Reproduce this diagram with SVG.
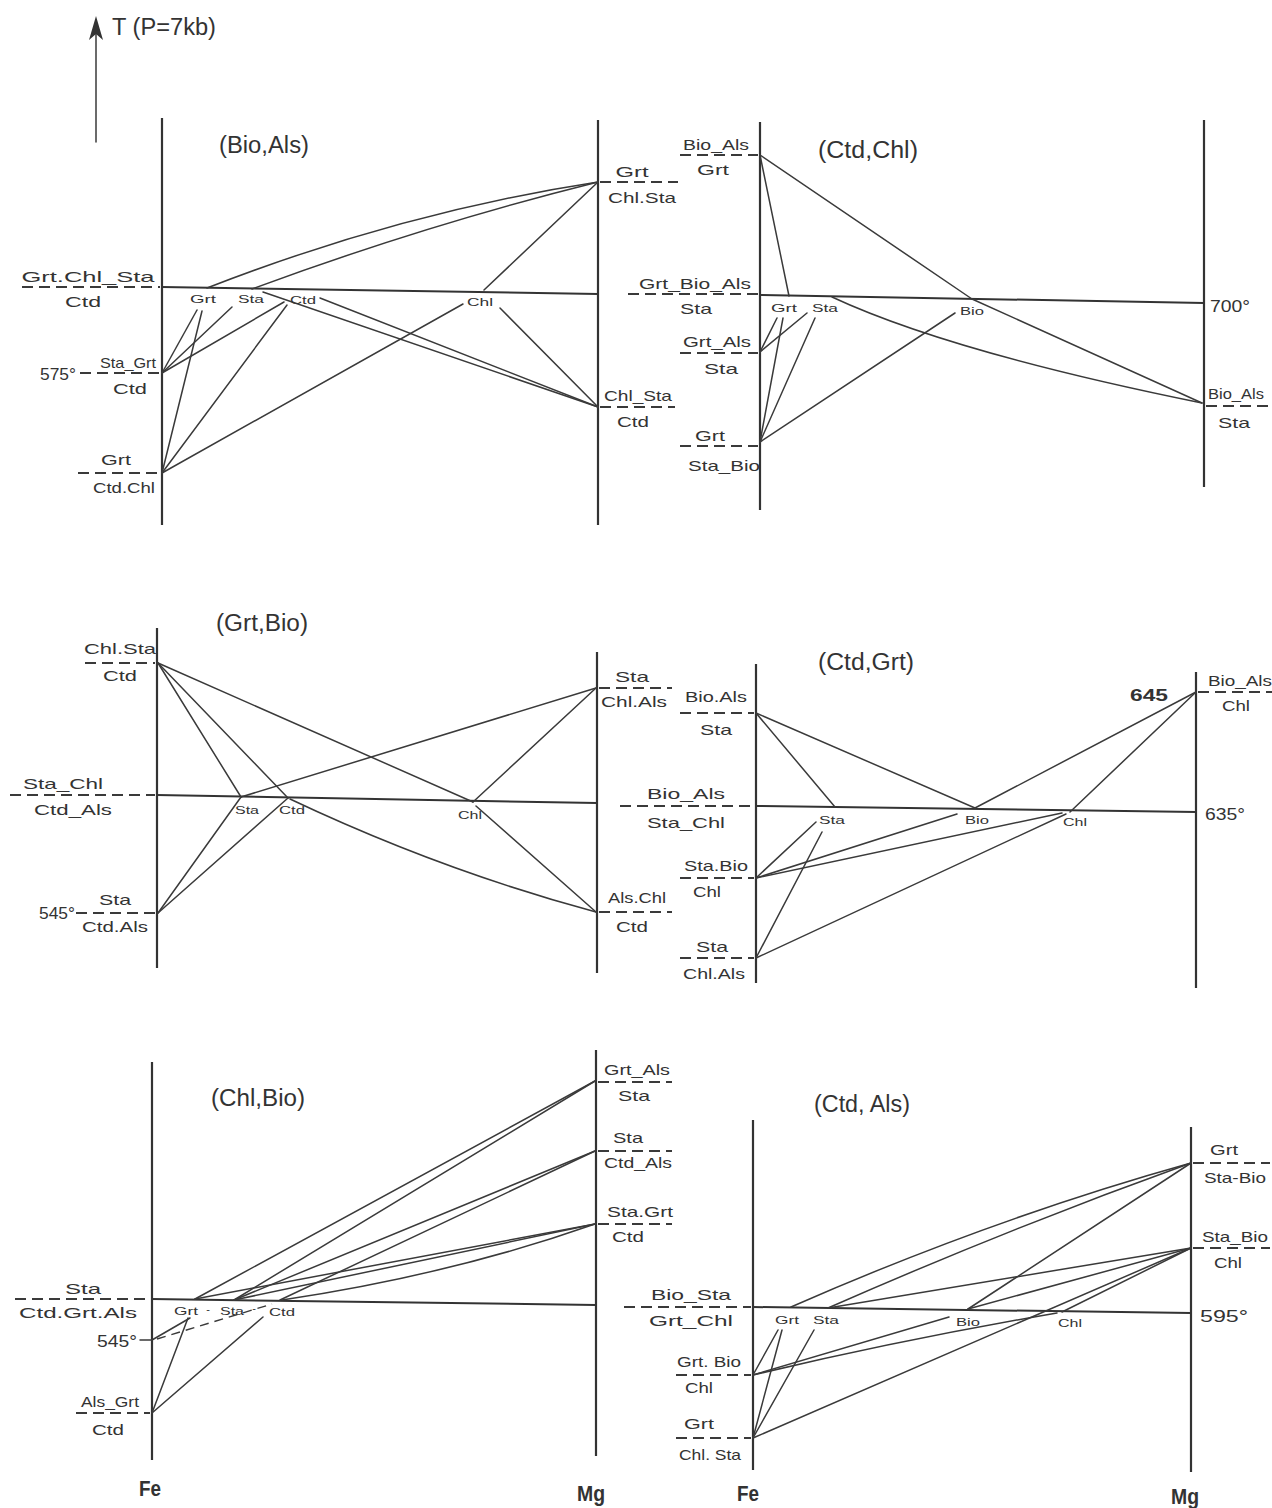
<svg xmlns="http://www.w3.org/2000/svg" width="1272" height="1508" viewBox="0 0 1272 1508">
<defs>
<style>
.ax{stroke:#333;stroke-width:2.2;fill:none}
.hl{stroke:#333;stroke-width:2;fill:none}
.ln{stroke:#3a3a3a;stroke-width:1.5;fill:none;stroke-linecap:round}
.ds{stroke:#3a3a3a;stroke-width:1.8;fill:none;stroke-dasharray:11 6}
.dl{stroke:#3a3a3a;stroke-width:1.4;fill:none;stroke-dasharray:9 6}
.h{font-family:"Liberation Sans",Arial,sans-serif;font-size:15px;fill:#333;text-anchor:middle}
.n{font-family:"Liberation Sans",Arial,sans-serif;font-size:11px;fill:#333;text-anchor:middle}
.t{font-family:"Liberation Sans",Arial,sans-serif;font-size:23px;fill:#333;text-anchor:middle}
.v{font-family:"Liberation Sans",Arial,sans-serif;font-size:17px;fill:#333}
.fm{font-family:"Liberation Sans",Arial,sans-serif;font-size:22px;font-weight:bold;fill:#333;text-anchor:middle}
</style>
<marker id="ah" markerWidth="12" markerHeight="24" refX="6" refY="2" orient="auto-start-reverse" markerUnits="userSpaceOnUse" viewBox="0 0 12 24">
<path d="M6,0 L12,24 L6,18 L0,24 Z" fill="#333"/>
</marker>
</defs>
<rect width="1272" height="1508" fill="#fff"/>

<g id="header">
<line x1="96" y1="142" x2="96" y2="20" class="ln" stroke-width="1.8"/>
<path d="M96,16 L103,40 L96,34 L89,40 Z" fill="#333"/>
<text x="164" y="35" class="t" textLength="104" lengthAdjust="spacingAndGlyphs">T (P=7kb)</text>
</g>

<!-- axes and isotherm lines -->
<g id="frames">
<line x1="162" y1="118" x2="162" y2="525" class="ax"/>
<line x1="598" y1="120" x2="598" y2="525" class="ax"/>
<line x1="162" y1="287" x2="598" y2="294" class="hl"/>
<line x1="760" y1="122" x2="760" y2="510" class="ax"/>
<line x1="1204" y1="120" x2="1204" y2="487" class="ax"/>
<line x1="760" y1="295" x2="1204" y2="303" class="hl"/>
<line x1="157" y1="628" x2="157" y2="968" class="ax"/>
<line x1="597" y1="652" x2="597" y2="973" class="ax"/>
<line x1="157" y1="795" x2="597" y2="803" class="hl"/>
<line x1="756" y1="664" x2="756" y2="983" class="ax"/>
<line x1="1196" y1="672" x2="1196" y2="988" class="ax"/>
<line x1="756" y1="806" x2="1196" y2="812" class="hl"/>
<line x1="152" y1="1062" x2="152" y2="1460" class="ax"/>
<line x1="596" y1="1050" x2="596" y2="1456" class="ax"/>
<line x1="152" y1="1299" x2="596" y2="1305" class="hl"/>
<line x1="753" y1="1120" x2="753" y2="1470" class="ax"/>
<line x1="1191" y1="1127" x2="1191" y2="1472" class="ax"/>
<line x1="753" y1="1307" x2="1191" y2="1313" class="hl"/>
</g>

<g id="connectors">
<!-- panel 1 -->
<path d="M207,288 Q402,212 598,182" class="ln"/>
<path d="M252,289 Q425,225 598,182" class="ln"/>
<line x1="484" y1="290" x2="598" y2="182" class="ln"/>
<line x1="263" y1="292" x2="598" y2="407" class="ln"/>
<line x1="320" y1="298" x2="598" y2="407" class="ln"/>
<line x1="500" y1="308" x2="598" y2="407" class="ln"/>
<line x1="463" y1="304" x2="162" y2="473" class="ln"/>
<line x1="162" y1="373" x2="197" y2="310" class="ln"/>
<line x1="162" y1="373" x2="232" y2="307" class="ln"/>
<line x1="162" y1="373" x2="284" y2="302" class="ln"/>
<line x1="162" y1="473" x2="202" y2="311" class="ln"/>
<line x1="162" y1="473" x2="287" y2="305" class="ln"/>
<!-- panel 2 -->
<line x1="760" y1="155" x2="972" y2="299" class="ln"/>
<line x1="972" y1="299" x2="1202" y2="403" class="ln"/>
<line x1="760" y1="155" x2="789" y2="296" class="ln"/>
<path d="M832,297 Q950,352 1202,403" class="ln"/>
<line x1="760" y1="352" x2="777" y2="318" class="ln"/>
<line x1="760" y1="352" x2="807" y2="313" class="ln"/>
<line x1="760" y1="442" x2="783" y2="318" class="ln"/>
<line x1="760" y1="442" x2="815" y2="318" class="ln"/>
<line x1="760" y1="442" x2="955" y2="313" class="ln"/>
<!-- panel 3 -->
<line x1="158" y1="663" x2="241" y2="797" class="ln"/>
<line x1="158" y1="663" x2="288" y2="798" class="ln"/>
<line x1="158" y1="663" x2="473" y2="802" class="ln"/>
<line x1="476" y1="806" x2="596" y2="912" class="ln"/>
<line x1="241" y1="797" x2="596" y2="688" class="ln"/>
<line x1="473" y1="802" x2="596" y2="688" class="ln"/>
<path d="M290,799 Q440,870 596,912" class="ln"/>
<line x1="158" y1="913" x2="241" y2="797" class="ln"/>
<line x1="158" y1="913" x2="288" y2="798" class="ln"/>
<!-- panel 4 -->
<line x1="756" y1="713" x2="835" y2="807" class="ln"/>
<line x1="756" y1="713" x2="975" y2="808" class="ln"/>
<line x1="1196" y1="692" x2="975" y2="808" class="ln"/>
<line x1="1196" y1="692" x2="1070" y2="812" class="ln"/>
<line x1="756" y1="878" x2="816" y2="822" class="ln"/>
<line x1="756" y1="878" x2="957" y2="814" class="ln"/>
<line x1="756" y1="878" x2="1062" y2="813" class="ln"/>
<line x1="756" y1="958" x2="822" y2="832" class="ln"/>
<line x1="756" y1="958" x2="1066" y2="814" class="ln"/>
<!-- panel 5 -->
<line x1="195" y1="1299" x2="595" y2="1081" class="ln"/>
<line x1="234" y1="1300" x2="595" y2="1081" class="ln"/>
<line x1="234" y1="1300" x2="595" y2="1151" class="ln"/>
<line x1="280" y1="1300" x2="595" y2="1151" class="ln"/>
<line x1="195" y1="1299" x2="595" y2="1224" class="ln"/>
<line x1="234" y1="1300" x2="595" y2="1224" class="ln"/>
<path d="M282,1300 Q450,1275 595,1224" class="ln"/>
<line x1="157" y1="1339" x2="272" y2="1304" class="dl"/>
<line x1="152" y1="1340" x2="190" y2="1318" class="ln"/>
<line x1="152" y1="1413" x2="188" y2="1318" class="ln"/>
<line x1="152" y1="1413" x2="263" y2="1317" class="ln"/>
<!-- panel 6 -->
<path d="M791,1307 Q991,1219 1191,1163" class="ln"/>
<path d="M828,1308 Q1010,1228 1191,1163" class="ln"/>
<line x1="968" y1="1309" x2="1191" y2="1163" class="ln"/>
<line x1="828" y1="1308" x2="1191" y2="1248" class="ln"/>
<line x1="968" y1="1309" x2="1191" y2="1248" class="ln"/>
<line x1="1062" y1="1312" x2="1191" y2="1248" class="ln"/>
<line x1="753" y1="1375" x2="778" y2="1330" class="ln"/>
<line x1="753" y1="1375" x2="949" y2="1317" class="ln"/>
<path d="M753,1375 Q900,1340 1057,1313" class="ln"/>
<line x1="753" y1="1438" x2="782" y2="1330" class="ln"/>
<line x1="753" y1="1438" x2="814" y2="1330" class="ln"/>
<line x1="753" y1="1438" x2="1191" y2="1248" class="ln"/>
</g>

<!-- panel 1 : (Bio,Als) -->
<g id="p1-title"><text x="264" y="153" class="t" textLength="90" lengthAdjust="spacingAndGlyphs">(Bio,Als)</text></g>
<g id="p1-left-iso"><line x1="22" y1="287" x2="160" y2="287" class="ds"/><text x="88" y="282" class="h" textLength="133" lengthAdjust="spacingAndGlyphs">Grt.Chl_Sta</text><text x="83" y="307" class="h" textLength="36" lengthAdjust="spacingAndGlyphs">Ctd</text></g>
<g id="p1-575"><text x="40" y="380" class="v" textLength="36" lengthAdjust="spacingAndGlyphs">575°</text><line x1="80" y1="373" x2="160" y2="373" class="ds"/><text x="128" y="368" class="h" textLength="56" lengthAdjust="spacingAndGlyphs">Sta_Grt</text><text x="130" y="394" class="h" textLength="34" lengthAdjust="spacingAndGlyphs">Ctd</text></g>
<g id="p1-grt-ctdchl"><text x="116" y="465" class="h" textLength="30" lengthAdjust="spacingAndGlyphs">Grt</text><line x1="78" y1="473" x2="160" y2="473" class="ds"/><text x="124" y="493" class="h" textLength="62" lengthAdjust="spacingAndGlyphs">Ctd.Chl</text></g>
<g id="p1-grt-chlsta"><text x="632" y="177" class="h" textLength="33" lengthAdjust="spacingAndGlyphs">Grt</text><line x1="600" y1="182" x2="678" y2="182" class="ds"/><text x="642" y="203" class="h" textLength="68" lengthAdjust="spacingAndGlyphs">Chl.Sta</text></g>
<g id="p1-chlsta-ctd"><text x="638" y="401" class="h" textLength="68" lengthAdjust="spacingAndGlyphs">Chl_Sta</text><line x1="600" y1="407" x2="675" y2="407" class="ds"/><text x="633" y="427" class="h" textLength="32" lengthAdjust="spacingAndGlyphs">Ctd</text></g>
<g id="p1-phases"><text x="203" y="303" class="n" textLength="26" lengthAdjust="spacingAndGlyphs">Grt</text><text x="251" y="303" class="n" textLength="26" lengthAdjust="spacingAndGlyphs">Sta</text><text x="303" y="304" class="n" textLength="26" lengthAdjust="spacingAndGlyphs">Ctd</text><text x="480" y="306" class="n" textLength="26" lengthAdjust="spacingAndGlyphs">Chl</text></g>

<!-- panel 2 : (Ctd,Chl) -->
<g id="p2-title"><text x="868" y="158" class="t" textLength="100" lengthAdjust="spacingAndGlyphs">(Ctd,Chl)</text></g>
<g id="p2-bioals-grt"><text x="716" y="150" class="h" textLength="66" lengthAdjust="spacingAndGlyphs">Bio_Als</text><line x1="680" y1="155" x2="758" y2="155" class="ds"/><text x="713" y="175" class="h" textLength="32" lengthAdjust="spacingAndGlyphs">Grt</text></g>
<g id="p2-left-iso"><line x1="628" y1="294" x2="758" y2="294" class="ds"/><text x="695" y="289" class="h" textLength="112" lengthAdjust="spacingAndGlyphs">Grt_Bio_Als</text><text x="696" y="314" class="h" textLength="32" lengthAdjust="spacingAndGlyphs">Sta</text></g>
<g id="p2-grtals-sta"><text x="717" y="347" class="h" textLength="68" lengthAdjust="spacingAndGlyphs">Grt_Als</text><line x1="680" y1="353" x2="758" y2="353" class="ds"/><text x="721" y="374" class="h" textLength="34" lengthAdjust="spacingAndGlyphs">Sta</text></g>
<g id="p2-grt-stabio"><text x="710" y="441" class="h" textLength="30" lengthAdjust="spacingAndGlyphs">Grt</text><line x1="680" y1="446" x2="758" y2="446" class="ds"/><text x="724" y="471" class="h" textLength="72" lengthAdjust="spacingAndGlyphs">Sta_Bio</text></g>
<g id="p2-700"><text x="1210" y="312" class="v" textLength="40" lengthAdjust="spacingAndGlyphs">700°</text></g>
<g id="p2-bioals-sta"><text x="1236" y="399" class="h" textLength="56" lengthAdjust="spacingAndGlyphs">Bio_Als</text><line x1="1206" y1="406" x2="1272" y2="406" class="ds"/><text x="1234" y="428" class="h" textLength="32" lengthAdjust="spacingAndGlyphs">Sta</text></g>
<g id="p2-phases"><text x="784" y="312" class="n" textLength="26" lengthAdjust="spacingAndGlyphs">Grt</text><text x="825" y="312" class="n" textLength="26" lengthAdjust="spacingAndGlyphs">Sta</text><text x="972" y="315" class="n" textLength="24" lengthAdjust="spacingAndGlyphs">Bio</text></g>

<!-- panel 3 : (Grt,Bio) -->
<g id="p3-title"><text x="262" y="631" class="t" textLength="92" lengthAdjust="spacingAndGlyphs">(Grt,Bio)</text></g>
<g id="p3-chlsta-ctd"><text x="120" y="654" class="h" textLength="72" lengthAdjust="spacingAndGlyphs">Chl.Sta</text><line x1="85" y1="663" x2="155" y2="663" class="ds"/><text x="120" y="681" class="h" textLength="34" lengthAdjust="spacingAndGlyphs">Ctd</text></g>
<g id="p3-left-iso"><line x1="10" y1="795" x2="155" y2="795" class="ds"/><text x="63" y="789" class="h" textLength="80" lengthAdjust="spacingAndGlyphs">Sta_Chl</text><text x="73" y="815" class="h" textLength="78" lengthAdjust="spacingAndGlyphs">Ctd_Als</text></g>
<g id="p3-545"><text x="39" y="919" class="v" textLength="36" lengthAdjust="spacingAndGlyphs">545°</text><line x1="76" y1="913" x2="155" y2="913" class="ds"/><text x="115" y="905" class="h" textLength="32" lengthAdjust="spacingAndGlyphs">Sta</text><text x="115" y="932" class="h" textLength="66" lengthAdjust="spacingAndGlyphs">Ctd.Als</text></g>
<g id="p3-sta-chlals"><text x="632" y="682" class="h" textLength="34" lengthAdjust="spacingAndGlyphs">Sta</text><line x1="599" y1="688" x2="672" y2="688" class="ds"/><text x="634" y="707" class="h" textLength="66" lengthAdjust="spacingAndGlyphs">Chl.Als</text></g>
<g id="p3-alschl-ctd"><text x="637" y="903" class="h" textLength="58" lengthAdjust="spacingAndGlyphs">Als.Chl</text><line x1="599" y1="912" x2="672" y2="912" class="ds"/><text x="632" y="932" class="h" textLength="32" lengthAdjust="spacingAndGlyphs">Ctd</text></g>
<g id="p3-phases"><text x="247" y="814" class="n" textLength="24" lengthAdjust="spacingAndGlyphs">Sta</text><text x="292" y="814" class="n" textLength="26" lengthAdjust="spacingAndGlyphs">Ctd</text><text x="470" y="819" class="n" textLength="24" lengthAdjust="spacingAndGlyphs">Chl</text></g>

<!-- panel 4 : (Ctd,Grt) -->
<g id="p4-title"><text x="866" y="670" class="t" textLength="96" lengthAdjust="spacingAndGlyphs">(Ctd,Grt)</text></g>
<g id="p4-bioals-sta"><text x="716" y="702" class="h" textLength="62" lengthAdjust="spacingAndGlyphs">Bio.Als</text><line x1="680" y1="713" x2="754" y2="713" class="ds"/><text x="716" y="735" class="h" textLength="32" lengthAdjust="spacingAndGlyphs">Sta</text></g>
<g id="p4-left-iso"><line x1="620" y1="806" x2="754" y2="806" class="ds"/><text x="686" y="799" class="h" textLength="78" lengthAdjust="spacingAndGlyphs">Bio_Als</text><text x="686" y="828" class="h" textLength="78" lengthAdjust="spacingAndGlyphs">Sta_Chl</text></g>
<g id="p4-stabio-chl"><text x="716" y="871" class="h" textLength="64" lengthAdjust="spacingAndGlyphs">Sta.Bio</text><line x1="680" y1="878" x2="754" y2="878" class="ds"/><text x="707" y="897" class="h" textLength="28" lengthAdjust="spacingAndGlyphs">Chl</text></g>
<g id="p4-sta-chlals"><text x="712" y="952" class="h" textLength="32" lengthAdjust="spacingAndGlyphs">Sta</text><line x1="680" y1="958" x2="754" y2="958" class="ds"/><text x="714" y="979" class="h" textLength="62" lengthAdjust="spacingAndGlyphs">Chl.Als</text></g>
<g id="p4-645"><text x="1130" y="701" class="v" font-weight="bold" textLength="38" lengthAdjust="spacingAndGlyphs">645</text></g>
<g id="p4-bioals-chl"><text x="1240" y="686" class="h" textLength="64" lengthAdjust="spacingAndGlyphs">Bio_Als</text><line x1="1198" y1="692" x2="1272" y2="692" class="ds"/><text x="1236" y="711" class="h" textLength="28" lengthAdjust="spacingAndGlyphs">Chl</text></g>
<g id="p4-635"><text x="1205" y="820" class="v" textLength="40" lengthAdjust="spacingAndGlyphs">635°</text></g>
<g id="p4-phases"><text x="832" y="824" class="n" textLength="26" lengthAdjust="spacingAndGlyphs">Sta</text><text x="977" y="824" class="n" textLength="24" lengthAdjust="spacingAndGlyphs">Bio</text><text x="1075" y="826" class="n" textLength="24" lengthAdjust="spacingAndGlyphs">Chl</text></g>

<!-- panel 5 : (Chl,Bio) -->
<g id="p5-title"><text x="258" y="1106" class="t" textLength="94" lengthAdjust="spacingAndGlyphs">(Chl,Bio)</text></g>
<g id="p5-left-iso"><line x1="15" y1="1299" x2="150" y2="1299" class="ds"/><text x="83" y="1294" class="h" textLength="36" lengthAdjust="spacingAndGlyphs">Sta</text><text x="78" y="1318" class="h" textLength="118" lengthAdjust="spacingAndGlyphs">Ctd.Grt.Als</text></g>
<g id="p5-545"><text x="97" y="1347" class="v" textLength="40" lengthAdjust="spacingAndGlyphs">545°</text><line x1="140" y1="1340" x2="152" y2="1340" class="ln"/></g>
<g id="p5-alsgrt-ctd"><text x="110" y="1407" class="h" textLength="58" lengthAdjust="spacingAndGlyphs">Als_Grt</text><line x1="76" y1="1413" x2="150" y2="1413" class="ds"/><text x="108" y="1435" class="h" textLength="32" lengthAdjust="spacingAndGlyphs">Ctd</text></g>
<g id="p5-grtals-sta"><text x="637" y="1075" class="h" textLength="66" lengthAdjust="spacingAndGlyphs">Grt_Als</text><line x1="598" y1="1082" x2="672" y2="1082" class="ds"/><text x="634" y="1101" class="h" textLength="32" lengthAdjust="spacingAndGlyphs">Sta</text></g>
<g id="p5-sta-ctdals"><text x="628" y="1143" class="h" textLength="30" lengthAdjust="spacingAndGlyphs">Sta</text><line x1="598" y1="1151" x2="672" y2="1151" class="ds"/><text x="638" y="1168" class="h" textLength="68" lengthAdjust="spacingAndGlyphs">Ctd_Als</text></g>
<g id="p5-stagrt-ctd"><text x="640" y="1217" class="h" textLength="66" lengthAdjust="spacingAndGlyphs">Sta.Grt</text><line x1="598" y1="1224" x2="672" y2="1224" class="ds"/><text x="628" y="1242" class="h" textLength="32" lengthAdjust="spacingAndGlyphs">Ctd</text></g>
<g id="p5-phases"><text x="186" y="1315" class="n" textLength="24" lengthAdjust="spacingAndGlyphs">Grt</text><text x="208" y="1313" class="n">-</text><text x="232" y="1315" class="n" textLength="24" lengthAdjust="spacingAndGlyphs">Sta</text><text x="254" y="1312" class="n">-</text><text x="282" y="1316" class="n" textLength="26" lengthAdjust="spacingAndGlyphs">Ctd</text></g>
<g id="p5-fe"><text x="150" y="1496" class="fm" textLength="22" lengthAdjust="spacingAndGlyphs">Fe</text></g>
<g id="p5-mg"><text x="591" y="1501" class="fm" textLength="28" lengthAdjust="spacingAndGlyphs">Mg</text></g>

<!-- panel 6 : (Ctd,Als) -->
<g id="p6-title"><text x="862" y="1112" class="t" textLength="96" lengthAdjust="spacingAndGlyphs">(Ctd, Als)</text></g>
<g id="p6-left-iso"><line x1="624" y1="1307" x2="751" y2="1307" class="ds"/><text x="691" y="1300" class="h" textLength="80" lengthAdjust="spacingAndGlyphs">Bio_Sta</text><text x="691" y="1326" class="h" textLength="84" lengthAdjust="spacingAndGlyphs">Grt_Chl</text></g>
<g id="p6-grtbio-chl"><text x="709" y="1367" class="h" textLength="64" lengthAdjust="spacingAndGlyphs">Grt. Bio</text><line x1="676" y1="1375" x2="751" y2="1375" class="ds"/><text x="699" y="1393" class="h" textLength="28" lengthAdjust="spacingAndGlyphs">Chl</text></g>
<g id="p6-grt-chlsta"><text x="699" y="1429" class="h" textLength="30" lengthAdjust="spacingAndGlyphs">Grt</text><line x1="676" y1="1438" x2="751" y2="1438" class="ds"/><text x="710" y="1460" class="h" textLength="62" lengthAdjust="spacingAndGlyphs">Chl. Sta</text></g>
<g id="p6-grt-stabio"><text x="1224" y="1155" class="h" textLength="28" lengthAdjust="spacingAndGlyphs">Grt</text><line x1="1193" y1="1163" x2="1270" y2="1163" class="ds"/><text x="1235" y="1183" class="h" textLength="62" lengthAdjust="spacingAndGlyphs">Sta-Bio</text></g>
<g id="p6-stabio-chl"><text x="1235" y="1242" class="h" textLength="66" lengthAdjust="spacingAndGlyphs">Sta_Bio</text><line x1="1193" y1="1248" x2="1270" y2="1248" class="ds"/><text x="1228" y="1268" class="h" textLength="28" lengthAdjust="spacingAndGlyphs">Chl</text></g>
<g id="p6-595"><text x="1200" y="1322" class="v" textLength="48" lengthAdjust="spacingAndGlyphs">595°</text></g>
<g id="p6-phases"><text x="787" y="1324" class="n" textLength="24" lengthAdjust="spacingAndGlyphs">Grt</text><text x="826" y="1324" class="n" textLength="26" lengthAdjust="spacingAndGlyphs">Sta</text><text x="968" y="1326" class="n" textLength="24" lengthAdjust="spacingAndGlyphs">Bio</text><text x="1070" y="1327" class="n" textLength="24" lengthAdjust="spacingAndGlyphs">Chl</text></g>
<g id="p6-fe"><text x="748" y="1501" class="fm" textLength="22" lengthAdjust="spacingAndGlyphs">Fe</text></g>
<g id="p6-mg"><text x="1185" y="1504" class="fm" textLength="28" lengthAdjust="spacingAndGlyphs">Mg</text></g>
</svg>
